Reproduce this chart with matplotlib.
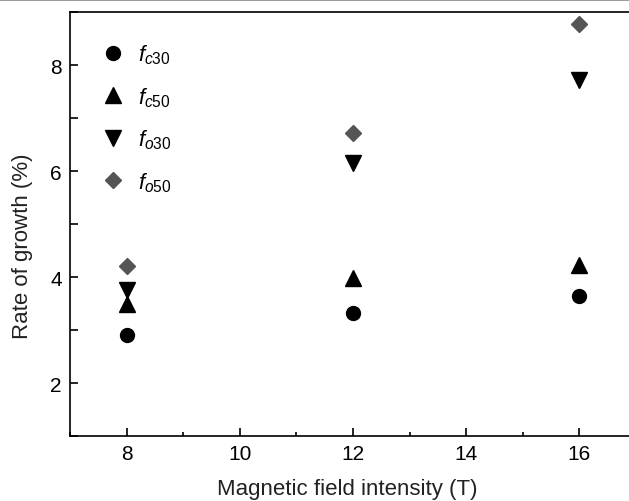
import matplotlib
matplotlib.use("Agg")
from matplotlib import pyplot as plt
from matplotlib.lines import Line2D
from matplotlib.ticker import MultipleLocator

plt.rcParams['font.family'] = ['Liberation Sans', 'DejaVu Sans']
plt.rcParams['mathtext.fontset'] = 'custom'
plt.rcParams['mathtext.it'] = 'Liberation Sans:italic'
plt.rcParams['mathtext.rm'] = 'Liberation Sans'

# Data
field = [8, 12, 16]
fc30 = [2.90, 3.33, 3.65]
fc50 = [3.50, 3.98, 4.23]
fo30 = [3.75, 6.15, 7.72]
fo50 = [4.20, 6.72, 8.78]

labels = [r'$\mathit{f}_{\mathit{c30}}$', r'$\mathit{f}_{\mathit{c50}}$',
          r'$\mathit{f}_{\mathit{o30}}$', r'$\mathit{f}_{\mathit{o50}}$']

dpi = 100
fig = plt.figure(figsize=(6.29, 5.02), dpi=dpi)
ax = fig.add_axes([70 / 629, 1 - 437 / 502, 566 / 629, 424 / 502])

ax.plot(field, fc30, 'o', color='black', markersize=10, label=labels[0])
ax.plot(field, fc50, '^', color='black', markersize=11, label=labels[1])
ax.plot(field, fo30, 'v', color='black', markersize=11, label=labels[2])
ax.plot(field, fo50, 'D', color='#555555', markersize=8.5, label=labels[3])

ax.set_xlim(7, 17)
ax.set_ylim(1, 9)
ax.xaxis.set_major_locator(MultipleLocator(2))
ax.xaxis.set_minor_locator(MultipleLocator(1))
ax.yaxis.set_major_locator(plt.FixedLocator([2, 4, 6, 8]))
ax.yaxis.set_minor_locator(MultipleLocator(1))

ax.tick_params(which='both', direction='in', width=1.2, labelsize=15, pad=6)
ax.tick_params(which='major', length=6)
ax.tick_params(which='minor', length=3)
ax.tick_params(axis='y', which='minor', length=6)

for side in ['left', 'top', 'bottom']:
    ax.spines[side].set_linewidth(1.2)
ax.spines['right'].set_visible(False)

ax.set_xlabel('Magnetic field intensity (T)', fontsize=16, color='#222222')
ax.set_ylabel('Rate of growth (%)', fontsize=16, color='#222222')
ax.xaxis.set_label_coords(0.489, -0.100)
ax.yaxis.set_label_coords(-0.066, 0.45)

ax.legend(loc='upper left', bbox_to_anchor=(0.012, 0.975), frameon=False,
          fontsize=16, labelspacing=0.85, handletextpad=0.35, handlelength=1.5)

# thin grey border line along the top of the image
fig.add_artist(Line2D([0, 1], [0.999, 0.999], color='#888888', linewidth=1.2))

fig.savefig('out.png', dpi=dpi)
